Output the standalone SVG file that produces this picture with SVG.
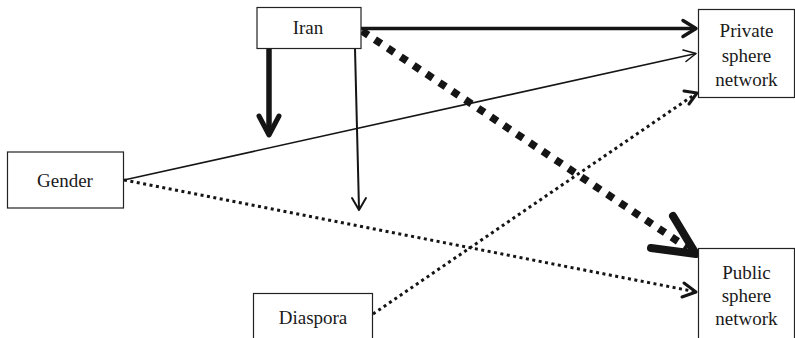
<svg xmlns="http://www.w3.org/2000/svg" width="795" height="338" viewBox="0 0 795 338">
  <style>
    .box { fill: #fff; stroke: #222; stroke-width: 1.2; }
    .lbl { font-size: 19px; fill: #1a1a1a; text-anchor: middle; }
    .ln { fill: none; stroke: #151515; }
    .head { fill: none; stroke: #151515; stroke-linecap: round; stroke-linejoin: round; }
    .dot { stroke-width: 3; stroke-dasharray: 3 3.5; }
  </style>
  <rect width="795" height="338" fill="#fff"/>

  <g id="connectors">
    <!-- Iran -> Private sphere network (thick solid) -->
    <line class="ln" x1="361" y1="28.5" x2="694" y2="28.5" stroke-width="3.5"/>
    <polyline class="head" points="683,20.5 696,28.5 683,36.5" stroke-width="3.5"/>

    <!-- Iran -> Public sphere network (heavy dashed) -->
    <line class="ln" x1="362" y1="31" x2="688" y2="248" stroke-width="7.5" stroke-dasharray="7.5 8"/>
    <polyline class="head" points="651,248 696,254 673,216" stroke-width="8"/>

    <!-- Iran down (thick) -->
    <line class="ln" x1="269" y1="49" x2="269" y2="134" stroke-width="5.5"/>
    <polyline class="head" points="259,116 269,135 279,116" stroke-width="5"/>

    <!-- Iran down (thin) -->
    <line class="ln" x1="355" y1="49" x2="359" y2="209" stroke-width="2"/>
    <polyline class="head" points="352,198 359,210 366,198" stroke-width="2"/>

    <!-- Gender -> Private sphere network (thin solid) -->
    <line class="ln" x1="124" y1="180" x2="696" y2="53.5" stroke-width="1.6"/>
    <polyline class="head" points="683,50 696,53.5 686,61.5" stroke-width="1.6"/>

    <!-- Gender -> Public sphere network (dotted) -->
    <line class="ln dot" x1="124" y1="180" x2="694" y2="291.5"/>
    <polyline class="head" points="684,283 696,292 682,297" stroke-width="3"/>

    <!-- Diaspora -> Private sphere network (dotted) -->
    <line class="ln dot" x1="373" y1="314" x2="694" y2="95"/>
    <polyline class="head" points="684,91 697,93 689,104" stroke-width="3"/>
  </g>

  <g font-family="'Liberation Serif', 'DejaVu Serif', serif">
    <g id="node-iran">
      <rect class="box" x="257" y="7.5" width="104" height="41"/>
      <text class="lbl" x="308" y="34">Iran</text>
    </g>

    <g id="node-gender">
      <rect class="box" x="7.5" y="152" width="116" height="56"/>
      <text class="lbl" x="65" y="187">Gender</text>
    </g>

    <g id="node-diaspora">
      <rect class="box" x="253.5" y="293.5" width="119" height="50"/>
      <text class="lbl" x="313" y="324">Diaspora</text>
    </g>

    <g id="node-private">
      <rect class="box" x="698.5" y="9.5" width="96" height="88"/>
      <text class="lbl" x="746.5" y="37">Private</text>
      <text class="lbl" x="746.5" y="62">sphere</text>
      <text class="lbl" x="746.5" y="86">network</text>
    </g>

    <g id="node-public">
      <rect class="box" x="698.5" y="248.5" width="96" height="95"/>
      <text class="lbl" x="746.5" y="279">Public</text>
      <text class="lbl" x="746.5" y="302">sphere</text>
      <text class="lbl" x="746.5" y="325">network</text>
    </g>
  </g>
</svg>
